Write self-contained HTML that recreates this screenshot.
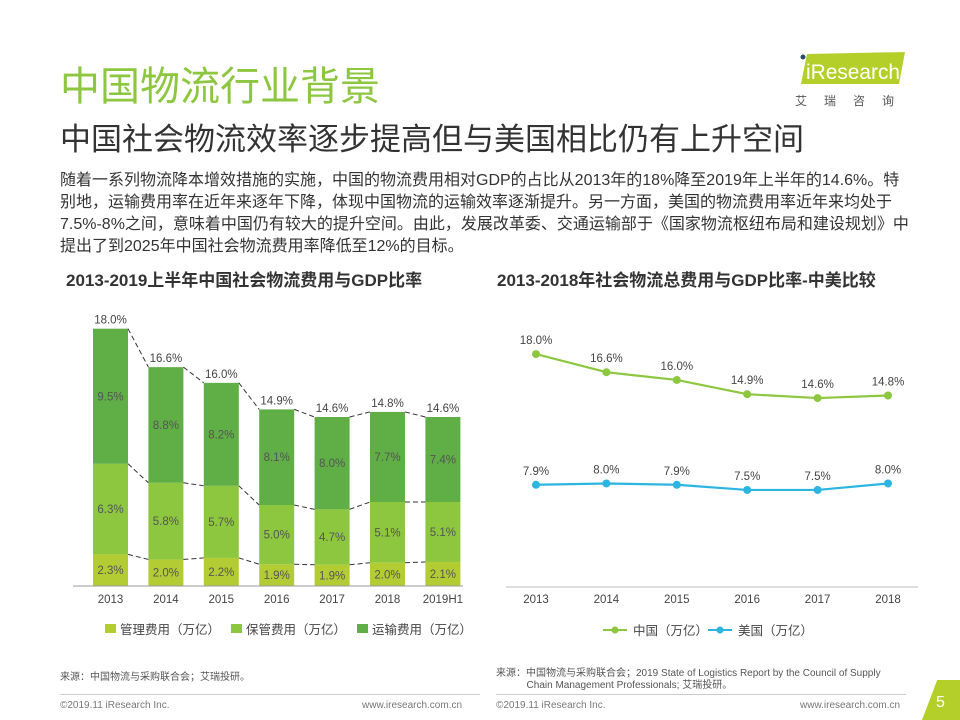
<!DOCTYPE html>
<html><head><meta charset="utf-8">
<style>
body{margin:0;background:#fff;}
#page{position:relative;width:960px;height:720px;overflow:hidden;font-family:"Liberation Sans","Noto Sans CJK SC",sans-serif;color:#333;}
.abs{position:absolute;white-space:nowrap;}
</style></head><body>
<div id="page">
<div class="abs" style="left:60px;top:54px;font-size:40px;color:#8dc63f;">中国物流行业背景</div>
<div class="abs" style="left:60px;top:114px;font-size:31px;color:#333;">中国社会物流效率逐步提高但与美国相比仍有上升空间</div>
<div class="abs" style="left:795px;top:50px;width:112px;height:36px;">
 <svg width="112" height="36"><polygon points="12,4 110,2 104,34 6,34" fill="#b5cf2a"/><circle cx="8" cy="7" r="2.5" fill="#2b4a6f"/><text x="11" y="29" font-size="21" fill="#fff" font-family="Liberation Sans" textLength="94" lengthAdjust="spacingAndGlyphs">iResearch</text></svg>
</div>
<div class="abs" style="left:795px;top:92px;font-size:12px;letter-spacing:17px;color:#555;">艾瑞咨询</div>
<div class="abs" style="left:60px;top:170px;font-size:16px;line-height:22px;color:#333;">随着一系列物流降本增效措施的实施，中国的物流费用相对GDP的占比从2013年的18%降至2019年上半年的14.6%。特<br>别地，运输费用率在近年来逐年下降，体现中国物流的运输效率逐渐提升。另一方面，美国的物流费用率近年来均处于<br>7.5%-8%之间，意味着中国仍有较大的提升空间。由此，发展改革委、交通运输部于《国家物流枢纽布局和建设规划》中<br>提出了到2025年中国社会物流费用率降低至12%的目标。</div>
<div class="abs" style="left:66px;top:266px;font-size:17px;font-weight:bold;">2013-2019上半年中国社会物流费用与GDP比率</div>
<div class="abs" style="left:497px;top:266px;font-size:17px;font-weight:bold;">2013-2018年社会物流总费用与GDP比率-中美比较</div>
<svg class="abs" style="left:0;top:0" width="960" height="720" id="charts"></svg>
<div class="abs" style="left:60px;top:668px;font-size:10px;color:#555;">来源：中国物流与采购联合会；艾瑞投研。</div>
<div class="abs" style="left:496px;top:668px;font-size:10px;color:#555;line-height:12px;">来源：中国物流与采购联合会；2019 State of Logistics Report by the Council of Supply<br>&nbsp;&nbsp;&nbsp;&nbsp;&nbsp;&nbsp;&nbsp;&nbsp;&nbsp;&nbsp;&nbsp;Chain Management Professionals; 艾瑞投研。</div>
<div class="abs" style="left:60px;top:694px;width:420px;border-top:1px solid #ccc;"></div>
<div class="abs" style="left:496px;top:694px;width:410px;border-top:1px solid #ccc;"></div>
<div class="abs" style="left:60px;top:700px;font-size:10px;color:#777;">©2019.11 iResearch Inc.</div>
<div class="abs" style="left:362px;top:700px;font-size:10px;color:#777;">www.iresearch.com.cn</div>
<div class="abs" style="left:496px;top:700px;font-size:10px;color:#777;">©2019.11 iResearch Inc.</div>
<div class="abs" style="left:800px;top:700px;font-size:10px;color:#777;">www.iresearch.com.cn</div>
<div class="abs" style="left:922px;top:680px;width:38px;height:40px;background:#b5cf2a;clip-path:polygon(40% 0,100% 0,100% 100%,0 100%);"></div>
<div class="abs" style="left:936px;top:694px;font-size:16px;color:#fff;">5</div>
</div>
<script>
const barCats=["2013","2014","2015","2016","2017","2018","2019H1"];
// amounts (万亿) determine bar heights
const mgmtAmt=[1.25,1.05,1.11,0.86,0.84,0.92,0.95];
const storageAmt=[3.58,3.03,2.85,2.34,2.19,2.40,2.37];
const transportAmt=[5.34,4.57,4.07,3.78,3.65,3.56,3.36];
// GDP ratio labels (%)
const mgmtPct=[2.3,2.0,2.2,1.9,1.9,2.0,2.1];
const storagePct=[6.3,5.8,5.7,5.0,4.7,5.1,5.1];
const transportPct=[9.5,8.8,8.2,8.1,8.0,7.7,7.4];
const totals=["18.0%","16.6%","16.0%","14.9%","14.6%","14.8%","14.6%"];
const lineCats=["2013","2014","2015","2016","2017","2018"];
const china=[18.0,16.6,16.0,14.9,14.6,14.8];
const usa=[7.9,8.0,7.9,7.5,7.5,8.0];

const NS="http://www.w3.org/2000/svg";
const svg=document.getElementById('charts');
function mk(t,a,txt){const e=document.createElementNS(NS,t);for(const k in a)e.setAttribute(k,a[k]);if(txt!=null)e.textContent=txt;svg.appendChild(e);return e;}
const bY0=586,bK=25.3,bX0=110.5,bStep=55.4,bW=35;
const bx=i=>bX0+i*bStep, by=v=>bY0-v*bK;
const cols=["#b3cc34","#8dc63f","#5fae46"];
const amts=[mgmtAmt,storageAmt,transportAmt];
const pcts=[mgmtPct,storagePct,transportPct];
let prevTops=[];
barCats.forEach((c,i)=>{
 let acc=0;const tops=[];
 amts.forEach((s,j)=>{
  const y1=by(acc),y2=by(acc+s[i]);
  const r=mk('rect',{x:bx(i)-bW/2,y:y2,width:bW,height:y1-y2,fill:cols[j]});
  
  
  const t=mk('text',{x:bx(i),y:(y1+y2)/2+4,'text-anchor':'middle','font-size':11.5,fill:'#555'},pcts[j][i].toFixed(1)+'%');
  
  
  acc+=s[i];tops.push(y2);
 });
 const tl=mk('text',{x:bx(i),y:by(acc)-5,'text-anchor':'middle','font-size':11.5,fill:'#444'},totals[i]);
 
 
 const xl=mk('text',{x:bx(i),y:603,'text-anchor':'middle','font-size':11.5,fill:'#444'},c);
 
 
 if(i>0){tops.forEach((ty,j)=>{
  const l=mk('line',{x1:bx(i-1)+bW/2,y1:prevTops[j],x2:bx(i)-bW/2,y2:ty,stroke:'#333','stroke-width':1,'stroke-dasharray':'5,3'});
  
  
 });}
 prevTops=tops;
});
const ax=mk('line',{x1:73,y1:bY0,x2:463,y2:bY0,stroke:'#999'});


[["管理费用（万亿）",105],["保管费用（万亿）",231],["运输费用（万亿）",357]].forEach((L,j)=>{
 const r=mk('rect',{x:L[1],y:624,width:11,height:9,fill:cols[j]});
 
 
 const t=mk('text',{x:L[1]+15,y:634,'font-size':12.5,fill:'#444'},L[0]);
 
 
});
const lY0=587,lK=12.94,lX0=536,lStep=70.4;
const lx=i=>lX0+i*lStep, ly=v=>lY0-v*lK;
const ax2=mk('line',{x1:506,y1:lY0,x2:918,y2:lY0,stroke:'#bbb'});


[[china,'#8dc63f','china'],[usa,'#2bb5e0','usa']].forEach(([d,col,nm])=>{
 const p=mk('polyline',{points:d.map((v,i)=>lx(i)+','+ly(v)).join(' '),fill:'none',stroke:col,'stroke-width':2.2});
 
 
 d.forEach((v,i)=>{
  const c=mk('circle',{cx:lx(i),cy:ly(v),r:4,fill:col});
  
  
  const t=mk('text',{x:lx(i),y:ly(v)-10,'text-anchor':'middle','font-size':11.5,fill:'#444'},v.toFixed(1)+'%');
  
  
 });
});
lineCats.forEach((c,i)=>{
 const t=mk('text',{x:lx(i),y:603,'text-anchor':'middle','font-size':11.5,fill:'#444'},c);
 
 
});
[["中国（万亿）",603,'#8dc63f'],["美国（万亿）",708,'#2bb5e0']].forEach(L=>{
 const l=mk('line',{x1:L[1],y1:630,x2:L[1]+24,y2:630,stroke:L[2],'stroke-width':2});
 
 
 const c=mk('circle',{cx:L[1]+12,cy:630,r:3.5,fill:L[2]});
 
 
 const t=mk('text',{x:L[1]+30,y:635,'font-size':12.5,fill:'#444'},L[0]);
 
 
});
</script>
</body></html>
